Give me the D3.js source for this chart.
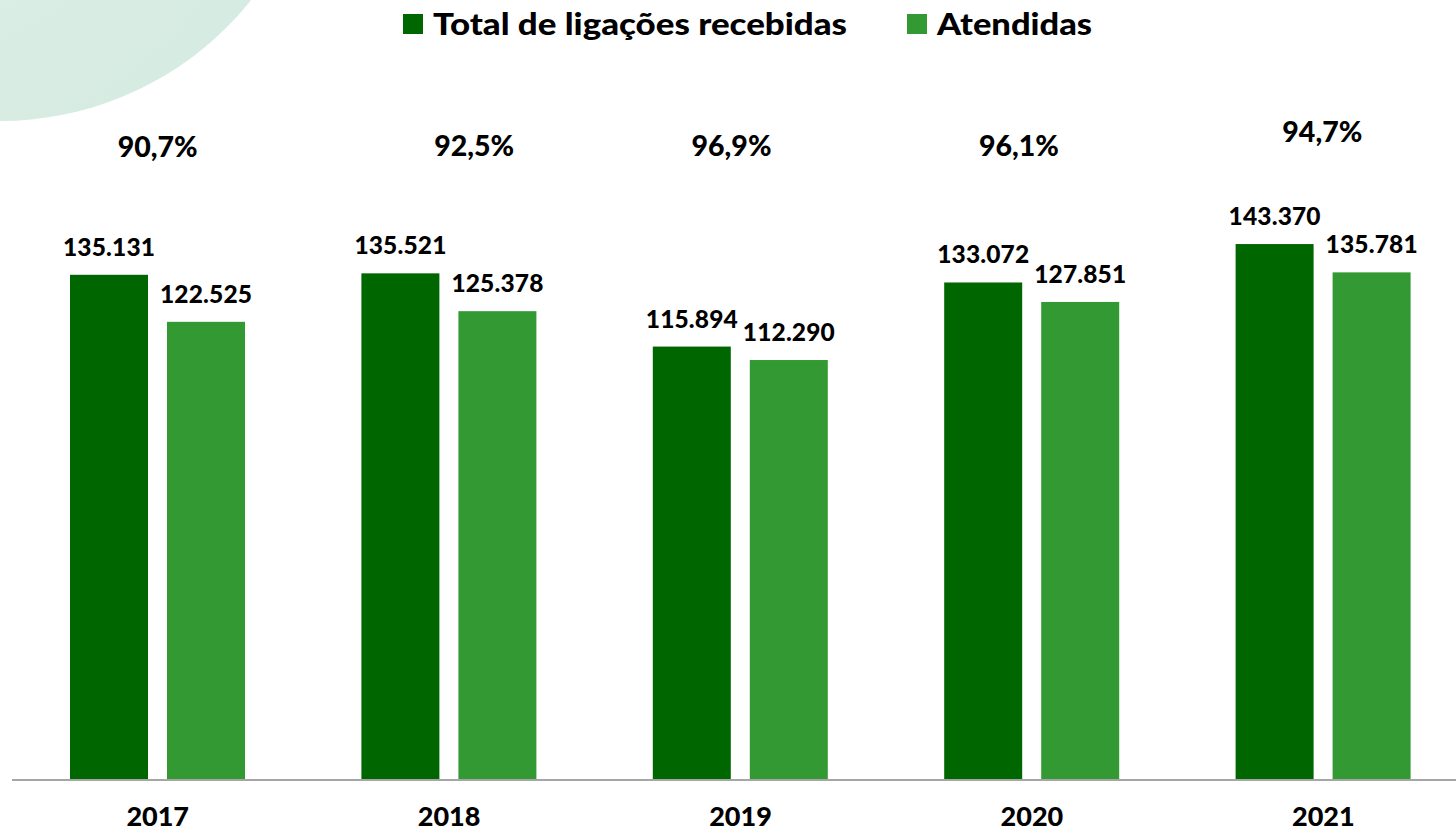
<!DOCTYPE html>
<html>
<head>
<meta charset="utf-8">
<script src="https://cdn.jsdelivr.net/npm/d3@7"></script>
<style>
  body { margin: 0; background: #fff; }
  svg { display: block; font-family: Lato, "Open Sans", sans-serif; font-weight: 900; }
</style>
</head>
<body>
<div id="chart"></div>
<script>
const years = ['2017', '2018', '2019', '2020', '2021']
const seriesNames = ['Total de ligações recebidas', 'Atendidas']
const totalRecebidas = [135131, 135521, 115894, 133072, 143370]
const atendidas = [122525, 125378, 112290, 127851, 135781]
const percentLabels = ['90,7%', '92,5%', '96,9%', '96,1%', '94,7%']

// manual nudges of the percent text boxes (layout, not data)
const pctShift = [[0, 0], [25, -1], [-9, -1], [-13, -1], [-1, -15]]

const width = 1456, height = 833
const baseY = 779
const colors = ['#006600', '#339933']

const fmt = v => d3.format(',')(v).replace(/,/g, '.')

const svg = d3.select('#chart').append('svg')
    .attr('width', width)
    .attr('height', height)

// decorative circle top-left
const defs = svg.append('defs')
const grad = defs.append('radialGradient').attr('id', 'bg')
    .attr('cx', '0.3').attr('cy', '0.4').attr('r', '0.7')
grad.append('stop').attr('offset', '0%').attr('stop-color', '#e3f1ea')
grad.append('stop').attr('offset', '100%').attr('stop-color', '#d6ebe2')
svg.append('circle')
    .attr('cx', 0).attr('cy', -200).attr('r', 321)
    .attr('fill', 'url(#bg)')

const x0 = d3.scaleBand()
    .domain(years)
    .range([12, 1469])

const x1 = d3.scaleBand()
    .domain(seriesNames)
    .range([58, 233])
    .paddingInner(0.196)

const y = d3.scaleLinear()
    .domain([0, 160000])
    .range([baseY, 182])

const rows = years.map((yr, i) => ({
    year: yr,
    pct: percentLabels[i],
    vals: [
        {name: seriesNames[0], value: totalRecebidas[i]},
        {name: seriesNames[1], value: atendidas[i]}
    ]
}))

const groups = svg.selectAll('g.year')
    .data(rows)
  .enter().append('g')
    .attr('class', 'year')
    .attr('transform', d => 'translate(' + x0(d.year) + ',0)')

groups.selectAll('rect')
    .data(d => d.vals)
  .enter().append('rect')
    .attr('x', d => x1(d.name))
    .attr('y', d => y(d.value))
    .attr('width', x1.bandwidth())
    .attr('height', d => baseY - y(d.value))
    .attr('fill', (d, i) => colors[i])

groups.selectAll('text.val')
    .data(d => d.vals)
  .enter().append('text')
    .attr('class', 'val')
    .attr('x', d => x1(d.name) + x1.bandwidth() / 2)
    .attr('y', d => y(d.value) - 19)
    .attr('text-anchor', 'middle')
    .attr('font-size', 24.5)
    .attr('textLength', 92)
    .attr('fill', '#000')
    .text(d => fmt(d.value))

// axis line
svg.append('line')
    .attr('x1', 12).attr('x2', width)
    .attr('y1', baseY + 1).attr('y2', baseY + 1)
    .attr('stroke', '#a6a6a6')
    .attr('stroke-width', 2)

// year labels
svg.selectAll('text.yr')
    .data(years)
  .enter().append('text')
    .attr('class', 'yr')
    .attr('x', d => x0(d) + x0.bandwidth() / 2)
    .attr('y', 826)
    .attr('text-anchor', 'middle')
    .attr('font-size', 27)
    .text(d => d)

// percent labels
svg.selectAll('text.pct')
    .data(rows)
  .enter().append('text')
    .attr('class', 'pct')
    .attr('x', (d, i) => x0(d.year) + x0.bandwidth() / 2 + pctShift[i][0])
    .attr('y', (d, i) => 157 + pctShift[i][1])
    .attr('text-anchor', 'middle')
    .attr('font-size', 28.5)
    .text(d => d.pct)

// legend
const legendX = [403, 907]
const legendW = [414, 155]
const legend = svg.selectAll('g.leg')
    .data(seriesNames)
  .enter().append('g')
    .attr('class', 'leg')
    .attr('transform', (d, i) => 'translate(' + legendX[i] + ',14)')

legend.append('rect')
    .attr('width', 20).attr('height', 20)
    .attr('fill', (d, i) => colors[i])

legend.append('text')
    .attr('x', 30)
    .attr('y', 21)
    .attr('font-size', 31)
    .attr('textLength', (d, i) => legendW[i])
    .attr('lengthAdjust', 'spacingAndGlyphs')
    .text(d => d)
</script>
</body>
</html>
